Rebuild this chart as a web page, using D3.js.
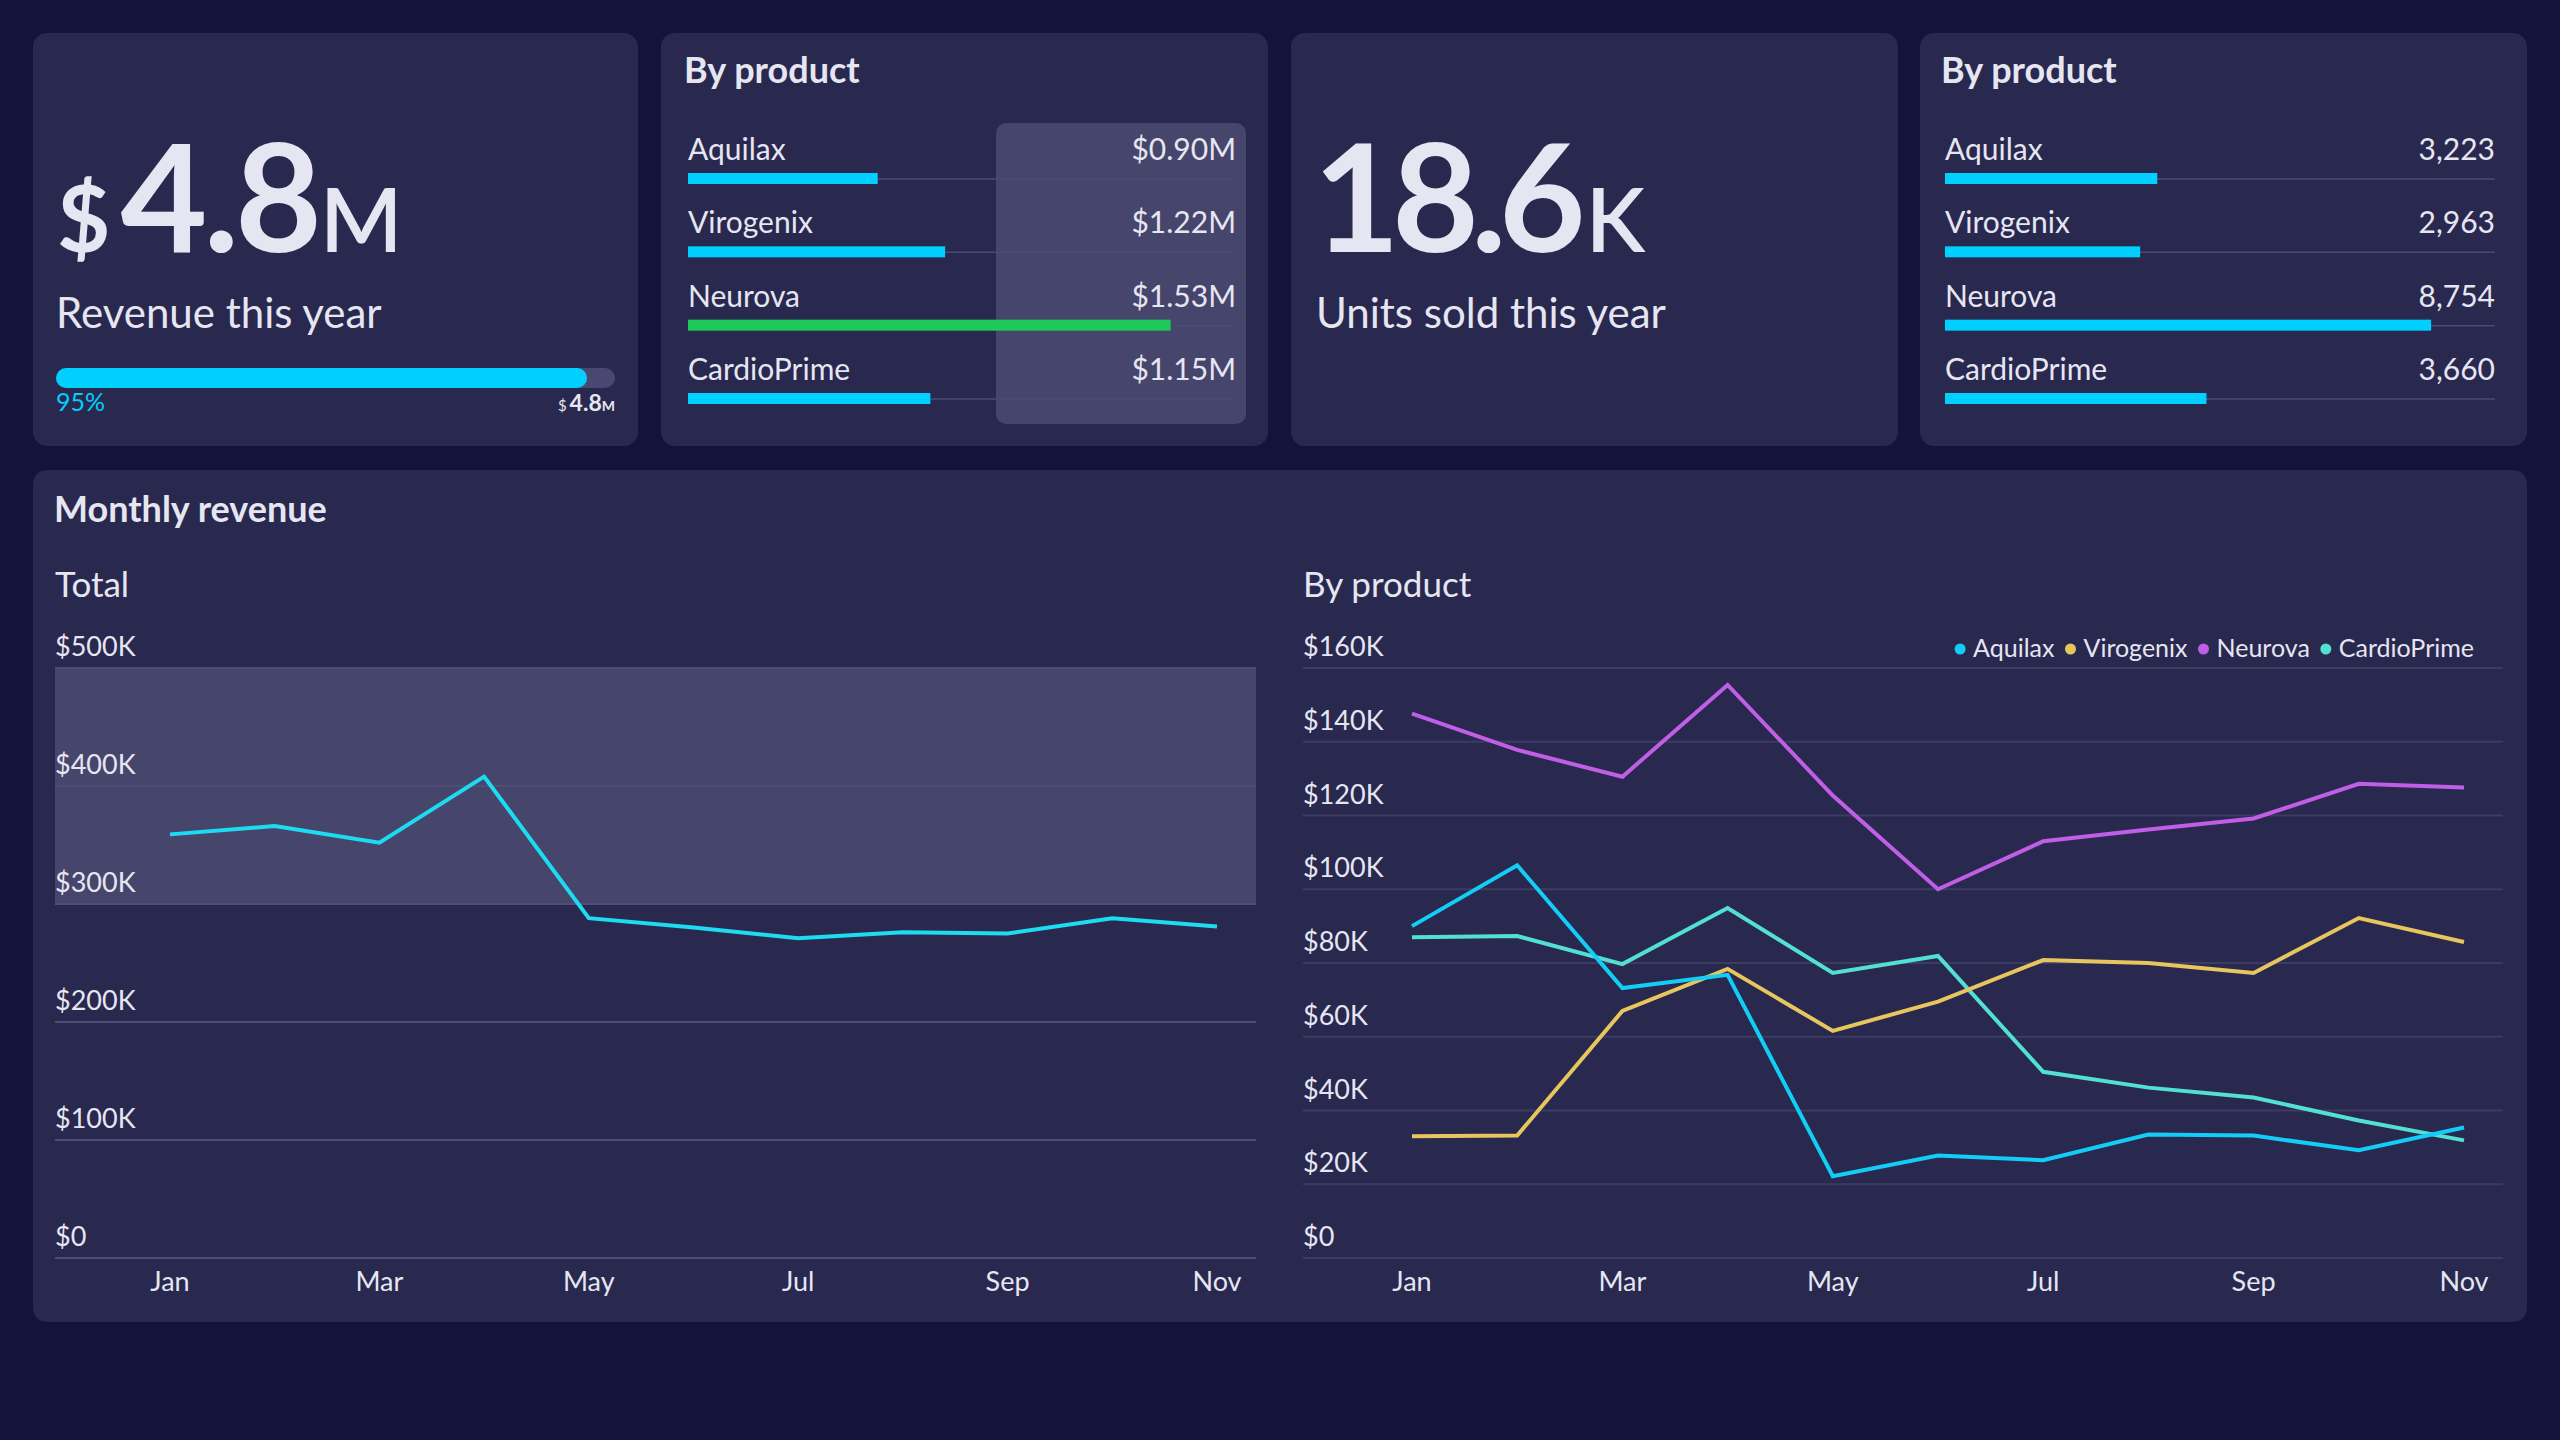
<!DOCTYPE html>
<html>
<head>
<meta charset="utf-8">
<script src="https://cdn.jsdelivr.net/npm/d3@7"></script>
<style>
    html, body { margin: 0; padding: 0; background: #14133b; }
    svg { display: block; font-family: Lato, "Open Sans", sans-serif; }
</style>
</head>
<body>
<svg id="chart" width="2560" height="1440"></svg>
<script>
// ---- data ----
const products = ["Aquilax", "Virogenix", "Neurova", "CardioPrime"]
const productColors = ["#14cdf7", "#e8c65e", "#c05fe6", "#52e0d2"]
const months = ["Jan", "Feb", "Mar", "Apr", "May", "Jun", "Jul", "Aug", "Sep", "Oct", "Nov"]
const monthTicks = ["Jan", "Mar", "May", "Jul", "Sep", "Nov"]

const totalRevenue = [359000, 366000, 352000, 408000, 288000, 280000, 271000, 276000, 275000, 288000, 281000]
const aquilaxRevenue = [90000, 106500, 73200, 76800, 22200, 27800, 26500, 33500, 33200, 29200, 35400]
const virogenixRevenue = [33000, 33200, 67000, 78400, 61600, 69500, 80800, 80000, 77300, 92200, 85700]
const neurovaRevenue = [147600, 137800, 130500, 155400, 125400, 100000, 113000, 116200, 119200, 128600, 127600]
const cardioPrimeRevenue = [87000, 87300, 79700, 94900, 77300, 81900, 50500, 46200, 43500, 37300, 31900]

const totalTicks = [0, 100000, 200000, 300000, 400000, 500000]
const productTicks = [0, 20000, 40000, 60000, 80000, 100000, 120000, 140000, 160000]
const targetBand = [300000, 500000]

const revenueLabels = ["$0.90M", "$1.22M", "$1.53M", "$1.15M"]
const revenueBars = [0.90, 1.22, 2.29, 1.15]     // $M, bar extents as drawn
const unitsLabels = ["3,223", "2,963", "8,754", "3,660"]
const unitsBars = [3223, 2963, 7380, 3970]        // bar extents as drawn
const highlighted = "Neurova"

const revenueProgress = 0.95

// ---- style ----
const BG = "#14133b",
    CARD = "#29284f",
    SHADE = "#46456b",
    GRID = "#3c3b62",
    TEXT = "#e6e6f2",
    CYAN = "#00cfff",
    GREEN = "#1fc85b",
    TOTAL_LINE = "#1ddcf2"

const svg = d3.select("#chart")

svg.append("rect").attr("width", 2560).attr("height", 1440).attr("fill", BG)

// cards
const cards = [
    {x: 33, y: 33, w: 605, h: 413},
    {x: 661, y: 33, w: 607, h: 413},
    {x: 1291, y: 33, w: 607, h: 413},
    {x: 1920, y: 33, w: 607, h: 413},
    {x: 33, y: 470, w: 2494, h: 852}
]
svg.selectAll("rect.card")
    .data(cards)
    .join("rect")
    .attr("class", "card")
    .attr("x", d => d.x)
    .attr("y", d => d.y)
    .attr("width", d => d.w)
    .attr("height", d => d.h)
    .attr("rx", 14)
    .attr("fill", CARD)

// ---- KPI: revenue ----
let kpi1 = svg.append("text")
    .attr("x", 57)
    .attr("y", 252)
    .style("fill", TEXT)
    .style("font-weight", 700)
kpi1.append("tspan").text("$").style("font-size", "92px")
kpi1.append("tspan").text("4.8").attr("dx", 10).style("font-size", "150px").style("letter-spacing", "-4px")
kpi1.append("tspan").text("M").attr("dx", 2).style("font-size", "88px").style("font-weight", 600)

svg.append("text")
    .attr("x", 56)
    .attr("y", 328)
    .text("Revenue this year")
    .style("font-size", "42px")
    .style("fill", TEXT)

const progressX = d3.scaleLinear().domain([0, 1]).range([56, 615])

svg.append("rect")
    .attr("x", progressX(0))
    .attr("y", 368)
    .attr("width", progressX(1) - progressX(0))
    .attr("height", 20)
    .attr("rx", 10)
    .attr("fill", "#4a4872")

svg.append("rect")
    .attr("x", progressX(0))
    .attr("y", 368)
    .attr("width", progressX(revenueProgress) - progressX(0))
    .attr("height", 20)
    .attr("rx", 10)
    .attr("fill", CYAN)

svg.append("text")
    .attr("x", progressX(0))
    .attr("y", 411)
    .text(d3.format(".0%")(revenueProgress))
    .style("font-size", "25px")
    .style("fill", CYAN)

let progressEnd = svg.append("text")
    .attr("x", progressX(1))
    .attr("y", 411)
    .attr("text-anchor", "end")
    .style("fill", TEXT)
progressEnd.append("tspan").text("$").style("font-size", "15px")
progressEnd.append("tspan").text("4.8").attr("dx", 3).style("font-size", "23px").style("font-weight", 700)
progressEnd.append("tspan").text("M").style("font-size", "14px").style("font-weight", 700)

// ---- KPI: units ----
let kpi2 = svg.append("text")
    .attr("x", 1313)
    .attr("y", 252)
    .style("fill", TEXT)
    .style("font-weight", 700)
kpi2.append("tspan").text("18.6").style("font-size", "150px").style("letter-spacing", "-8px")
kpi2.append("tspan").text("K").attr("dx", 8).style("font-size", "88px").style("font-weight", 600)

svg.append("text")
    .attr("x", 1316)
    .attr("y", 328)
    .text("Units sold this year")
    .style("font-size", "42px")
    .style("fill", TEXT)

// ---- by product lists ----
function productList(left, right, labels, bars, maxValue, shadeBox) {
    let g = svg.append("g"),
        rowY = d3.scalePoint().domain(products).range([160, 380]),
        barX = d3.scaleLinear().domain([0, maxValue]).range([left, right])

    g.append("text")
        .attr("x", left - 4)
        .attr("y", 83)
        .text("By product")
        .style("font-size", "36px")
        .style("font-weight", 700)
        .style("fill", TEXT)

    if (shadeBox) {
        g.append("rect")
            .attr("x", shadeBox[0])
            .attr("y", 123)
            .attr("width", shadeBox[1] - shadeBox[0])
            .attr("height", 301)
            .attr("rx", 10)
            .attr("fill", SHADE)
    }

    let rows = g.selectAll("g.row")
        .data(products)
        .join("g")
        .attr("class", "row")
        .attr("transform", d => `translate(0, ${rowY(d)})`)

    rows.append("line")
        .attr("x1", left)
        .attr("x2", right)
        .attr("y1", 19)
        .attr("y2", 19)
        .attr("stroke", "#4b4a72")
        .attr("stroke-width", 1.5)

    rows.append("rect")
        .attr("x", left)
        .attr("y", 13)
        .attr("height", 11)
        .attr("width", (d, i) => barX(bars[i]) - left)
        .attr("fill", d => (shadeBox && d === highlighted) ? GREEN : CYAN)

    rows.append("text")
        .attr("x", left)
        .text(d => d)
        .style("font-size", "30px")
        .style("fill", TEXT)

    rows.append("text")
        .attr("x", right)
        .attr("text-anchor", "end")
        .text((d, i) => labels[i])
        .style("font-size", "30px")
        .style("fill", TEXT)
}

productList(688, 1236, revenueLabels, revenueBars, 2.6, [996, 1246])
productList(1945, 2495, unitsLabels, unitsBars, 8350, null)

// ---- monthly revenue ----
svg.append("text")
    .attr("x", 54)
    .attr("y", 522)
    .text("Monthly revenue")
    .style("font-size", "36px")
    .style("font-weight", 700)
    .style("fill", TEXT)

function lineChart(left, right, padLeft, title, ticks, series, colors, band) {
    let g = svg.append("g"),
        x = d3.scalePoint().domain(months).range([left + padLeft, right - 39]),
        y = d3.scaleLinear().domain([0, d3.max(ticks)]).range([1258, 668]),
        fmt = v => v === 0 ? "$0" : `$${v / 1000}K`

    g.append("text")
        .attr("x", left)
        .attr("y", 597)
        .text(title)
        .style("font-size", "35px")
        .style("fill", TEXT)

    if (band) {
        g.append("rect")
            .attr("x", left)
            .attr("width", right - left)
            .attr("y", y(band[1]))
            .attr("height", y(band[0]) - y(band[1]))
            .attr("fill", SHADE)
    }

    g.selectAll("line.grid")
        .data(ticks)
        .join("line")
        .attr("class", "grid")
        .attr("x1", left)
        .attr("x2", right)
        .attr("y1", d => y(d))
        .attr("y2", d => y(d))
        .attr("stroke", band ? "#4e4d75" : GRID)
        .attr("stroke-width", 2)

    g.selectAll("text.ylabel")
        .data(ticks)
        .join("text")
        .attr("class", "ylabel")
        .attr("x", left)
        .attr("y", d => y(d) - 12)
        .text(fmt)
        .style("font-size", "27px")
        .style("fill", TEXT)

    g.selectAll("text.xlabel")
        .data(monthTicks)
        .join("text")
        .attr("class", "xlabel")
        .attr("x", d => x(d))
        .attr("y", 1291)
        .attr("text-anchor", "middle")
        .text(d => d)
        .style("font-size", "27px")
        .style("fill", TEXT)

    let line = d3.line()
        .x((d, i) => x(months[i]))
        .y(d => y(d))

    g.selectAll("path.series")
        .data(series)
        .join("path")
        .attr("class", "series")
        .attr("d", line)
        .attr("fill", "none")
        .attr("stroke", (d, i) => colors[i])
        .attr("stroke-width", 4)
        .attr("stroke-linejoin", "miter")

    return g
}

lineChart(55, 1256, 115, "Total", totalTicks, [totalRevenue], [TOTAL_LINE], targetBand)

let byProduct = lineChart(1303, 2503, 109, "By product", productTicks,
    [cardioPrimeRevenue, virogenixRevenue, aquilaxRevenue, neurovaRevenue],
    [productColors[3], productColors[1], productColors[0], productColors[2]], null)

// legend, laid out from the right edge
let legend = byProduct.append("g"),
    legendRight = 2474,
    cursor = legendRight
let items = products.map((p, i) => ({name: p, color: productColors[i]}))
let legendItems = legend.selectAll("g")
    .data(items)
    .join("g")
legendItems.append("circle")
    .attr("r", 5.5)
    .attr("cy", -8)
    .attr("fill", d => d.color)
legendItems.append("text")
    .attr("x", 13)
    .text(d => d.name)
    .style("font-size", "25px")
    .style("fill", TEXT)
let widths = []
legendItems.select("text").each(function() { widths.push(this.getComputedTextLength()) })
for (let i = items.length - 1; i >= 0; i--) {
    cursor -= widths[i] + 13
    items[i].x = cursor
    cursor -= 16
}
legendItems.attr("transform", d => `translate(${d.x}, 657)`)
</script>
</body>
</html>
